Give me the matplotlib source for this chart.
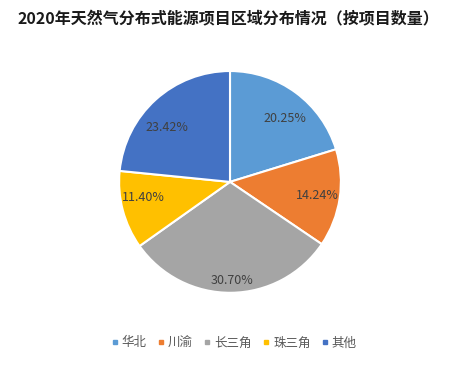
import matplotlib.pyplot as plt
import numpy as np
from matplotlib.lines import Line2D

plt.rcParams['font.family'] = ['Noto Sans CJK SC', 'DejaVu Sans']

# 数据
regions = ['华北', '川渝', '长三角', '珠三角', '其他']
shares = [20.25, 14.24, 30.70, 11.40, 23.42]
colors = ['#5B9BD5', '#ED7D31', '#A5A5A5', '#FFC000', '#4472C4']
# 标签位置微调：离圆心距离（半径倍数）和角度偏移（度）
label_r = [0.76, 0.80, 0.89, 0.79, 0.75]
label_da = [-4.3, 0, 0.6, -4.5, 6.8]

fig = plt.figure(figsize=(4.55, 3.66), dpi=100)
ax = fig.add_axes([0.5055 - 0.2462, 0.503 - 0.306, 0.4924, 0.612])

wedges, _ = ax.pie(shares, colors=colors, startangle=90, counterclock=False,
                   wedgeprops=dict(edgecolor='white', linewidth=1.5))
ax.set_xlim(-1.01, 1.01)
ax.set_ylim(-1.01, 1.01)
ax.set_aspect('equal')

for w, v, r, da in zip(wedges, shares, label_r, label_da):
    ang = np.deg2rad((w.theta1 + w.theta2) / 2 + da)
    ax.text(r * np.cos(ang), r * np.sin(ang), '%.2f%%' % v,
            ha='center', va='center', fontsize=9, color='#404040')

fig.text(0.502, 0.948, '2020年天然气分布式能源项目区域分布情况（按项目数量）',
         ha='center', va='center', fontsize=11.5, fontweight='bold', color='#1a1a1a')

handles = [Line2D([], [], marker='s', linestyle='', markersize=3.5,
                  markerfacecolor=c, markeredgecolor=c) for c in colors]
fig.legend(handles, regions, loc='center', bbox_to_anchor=(0.515, 0.063), ncol=5,
           frameon=False, fontsize=9, handlelength=0.5, handletextpad=0.3,
           columnspacing=0.9, labelcolor='#595959')

fig.savefig('out.png', dpi=100, facecolor='white')
